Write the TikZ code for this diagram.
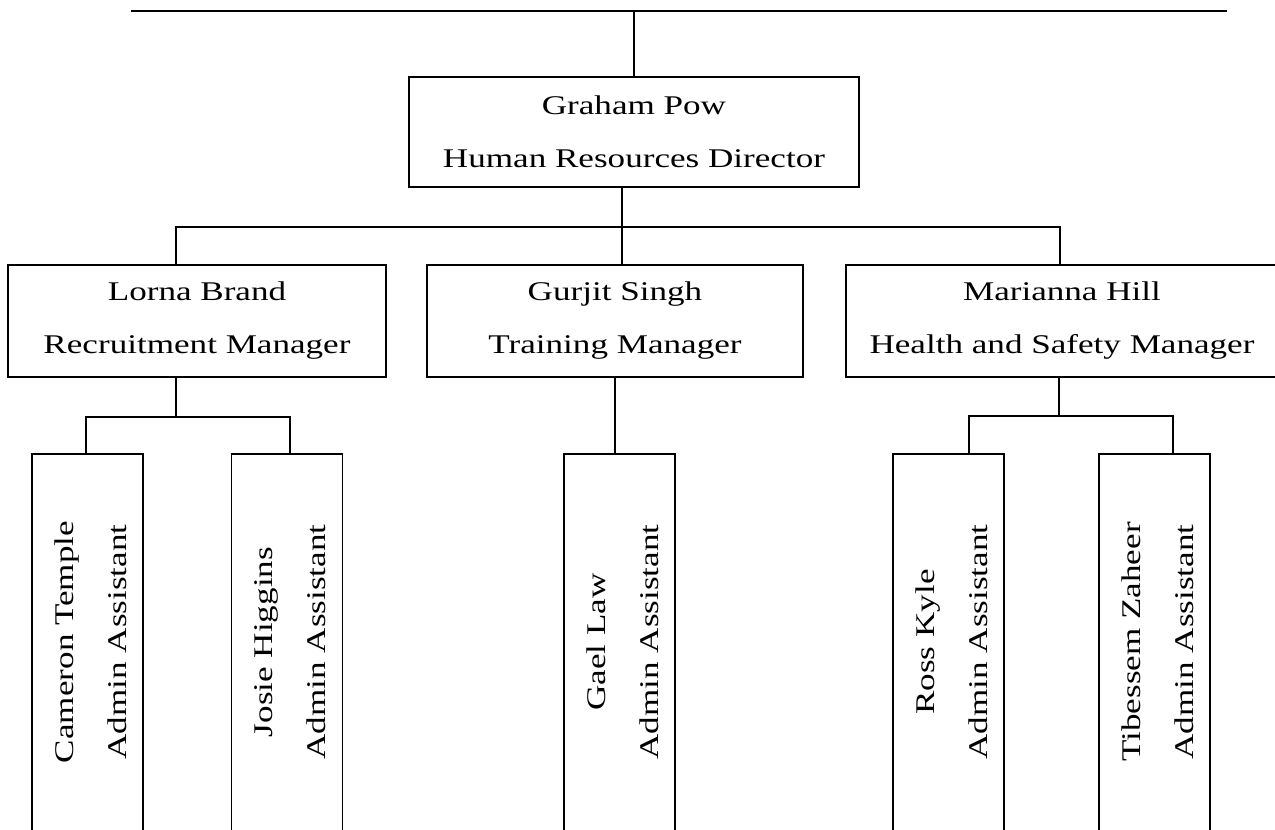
\documentclass[tikz,border=0pt]{standalone}
\usepackage{fontspec}
\setmainfont{Liberation Serif}[FakeStretch=1.3]
\usepackage{tikz}
\usetikzlibrary{positioning,calc}
\tikzset{
 post/.style
  = {rectangle, draw, line width=1.3pt, align=center, inner sep=0pt,
     font=\fontsize{27}{53}\selectfont},
 staff/.style
  = {rectangle, draw, line width=1.3pt, minimum width=111pt, minimum height=420pt},
 stafftext/.style
  = {rotate=90, align=center, inner sep=0pt, font=\fontsize{27}{53}\selectfont},
 link/.style
  = {draw, line width=2.8pt},
}

\begin{document}
\begin{tikzpicture}[x=1pt,y=-1pt]

\clip (0,0) rectangle (1275,830);

% Top bar
\coordinate (barL) at (131,11);
\coordinate (barR) at (1227,11);
\draw[link] (barL) -- (barR);

% Director
\node[post,minimum width=450pt,minimum height=110pt] (gp) at (634,132)
  {Graham Pow\\Human Resources Director};

% Managers
\node[post,minimum width=378pt,minimum height=112pt] (lb) at (197,321)
  {Lorna Brand\\Recruitment Manager};
\node[post,minimum width=376pt,minimum height=112pt] (gs) at (615,321)
  {Gurjit Singh\\Training Manager};
\node[post,minimum width=432pt,minimum height=112pt] (mh) at (1062,321)
  {Marianna Hill\\Health and Safety Manager};

% Admin assistants (boxes run off the page)
\node[staff] (ct) at (87.5,664) {};
\node[staff] (jh) at (287,664) {};
\node[staff] (gl) at (619.5,664) {};
\node[staff] (rk) at (948.5,664) {};
\node[staff] (tz) at (1154.5,664) {};

\node[stafftext] (ctt) at (90.5,642) {Cameron Temple\\Admin Assistant};
\node[stafftext] (jht) at (290,642) {Josie Higgins\\Admin Assistant};
\node[stafftext] (glt) at (622.5,642) {Gael Law\\Admin Assistant};
\node[stafftext] (rkt) at (951.5,642) {Ross Kyle\\Admin Assistant};
\node[stafftext] (tzt) at (1157.5,642) {Tibessem Zaheer\\Admin Assistant};

% Junctions
\coordinate (hub) at (622,227);
\coordinate (busL) at (176,227);
\coordinate (busR) at (1060,227);
\coordinate (lbhub) at (176,417);
\coordinate (mhhub) at (1059,416);

% Connectors
\draw[link] (gp.north) -- (gp.north |- barL);
\draw[link] (gp.south -| hub) -- (hub |- gs.north);
\draw[link] (busL |- lb.north) -- (busL) -- (busR) -- (busR |- mh.north);

\draw[link] (lb.south -| lbhub) -- (lbhub);
\draw[link] ([xshift=-1.5pt]ct.north) |- (lbhub) -| ([xshift=3pt]jh.north);

\draw[link] (gs.south) -- (gs.south |- gl.north);

\draw[link] (mh.south -| mhhub) -- (mhhub);
\draw[link] ([xshift=20.5pt]rk.north) |- (mhhub) -| ([xshift=18.5pt]tz.north);

\end{tikzpicture}
\end{document}
